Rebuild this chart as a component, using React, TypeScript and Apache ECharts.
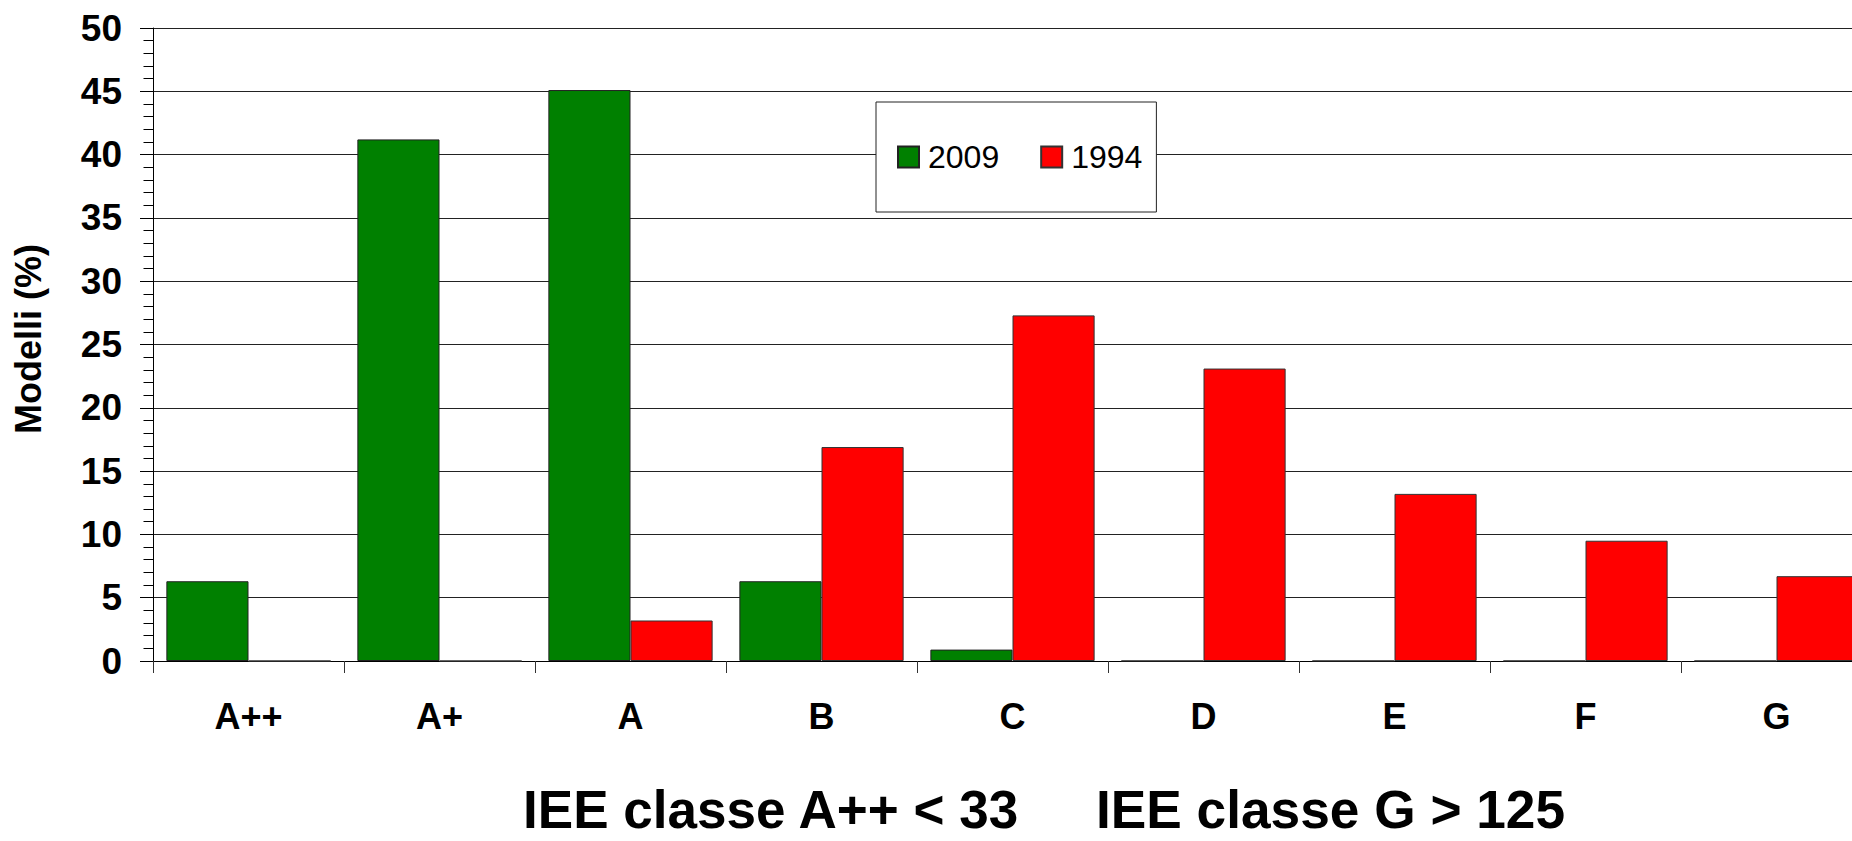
import React, { useEffect, useRef } from "react";
import * as echarts from "echarts";

const categories = ["A++", "A+", "A", "B", "C", "D", "E", "F", "G"];
const values2009 = [6.3, 41.2, 45.1, 6.3, 0.9, 0, 0, 0, 0];
const values1994 = [0, 0, 3.2, 16.9, 27.3, 23.1, 13.2, 9.5, 6.7];
const seriesNames = ["2009", "1994"];
const yTicks = { min: 0, max: 50, interval: 5 };
const yTitle = "Modelli (%)";
const footLeft = "IEE classe A++ < 33";
const footRight = "IEE classe G > 125";

const FONT = '"Liberation Sans", Arial, sans-serif';

export default function App() {
  const ref = useRef<HTMLDivElement>(null);
  useEffect(() => {
    if (!ref.current) return;
    const chart = echarts.init(ref.current, null, { renderer: "svg" });
    chart.setOption({
      animation: false,
      backgroundColor: "#ffffff",
      grid: { left: 153, top: 28, width: 1719, height: 633, containLabel: false },
      legend: {
        data: seriesNames.map((n) => ({ name: n, icon: "rect" })),
        left: 876,
        top: 102,
        orient: "horizontal",
        padding: [39, 14, 39, 21],
        itemGap: 41,
        itemWidth: 21,
        itemHeight: 21,
        borderColor: "#222",
        borderWidth: 1,
        backgroundColor: "#ffffff",
        textStyle: {
          fontFamily: FONT,
          fontSize: 32,
          color: "#000",
          lineHeight: 32,
          padding: [0, 0, 0, 4],
        },
      },
      xAxis: {
        type: "category",
        data: categories,
        axisLine: { show: true, lineStyle: { color: "#000", width: 1 } },
        axisTick: { show: true, length: 12, alignWithLabel: false, lineStyle: { color: "#333" } },
        axisLabel: {
          fontFamily: FONT,
          fontWeight: "bold",
          fontSize: 36,
          color: "#000",
          margin: 37,
        },
        splitLine: { show: false },
      },
      yAxis: {
        type: "value",
        min: yTicks.min,
        max: yTicks.max,
        interval: yTicks.interval,
        axisLine: { show: true, lineStyle: { color: "#000", width: 1 } },
        axisTick: { show: true, length: 13, lineStyle: { color: "#000" } },
        minorTick: { show: true, splitNumber: 5, length: 9.5, lineStyle: { color: "#000" } },
        axisLabel: {
          fontFamily: FONT,
          fontWeight: "bold",
          fontSize: 37,
          color: "#000",
          margin: 31,
        },
        splitLine: { show: true, lineStyle: { color: "#222", width: 1 } },
      },
      series: [
        {
          name: seriesNames[0],
          type: "bar",
          data: values2009,
          barGap: "0%",
          barCategoryGap: "14%",
          itemStyle: { color: "#008000", borderColor: "#222", borderWidth: 1 },
        },
        {
          name: seriesNames[1],
          type: "bar",
          data: values1994,
          barGap: "0%",
          barCategoryGap: "14%",
          itemStyle: { color: "#ff0000", borderColor: "#333", borderWidth: 1 },
        },
      ],
      graphic: [
        {
          type: "text",
          x: 28,
          y: 339,
          rotation: Math.PI / 2,
          style: {
            text: yTitle,
            font: `bold 36px ${FONT}`,
            fill: "#000",
            textAlign: "center",
            textVerticalAlign: "middle",
          },
        },
        {
          type: "text",
          x: 523,
          y: 809,
          scaleX: 0.983,
          style: {
            text: footLeft,
            font: `bold 54px ${FONT}`,
            fill: "#000",
            textAlign: "left",
            textVerticalAlign: "middle",
          },
        },
        {
          type: "text",
          x: 1096,
          y: 809,
          scaleX: 0.986,
          style: {
            text: footRight,
            font: `bold 54px ${FONT}`,
            fill: "#000",
            textAlign: "left",
            textVerticalAlign: "middle",
          },
        },
      ],
    });
    return () => chart.dispose();
  }, []);
  return (
    <div
      style={{
        position: "fixed",
        left: 0,
        top: 0,
        width: 1852,
        height: 841,
        overflow: "hidden",
        background: "#fff",
      }}
    >
      <div ref={ref} style={{ width: 1900, height: 841 }} />
    </div>
  );
}
